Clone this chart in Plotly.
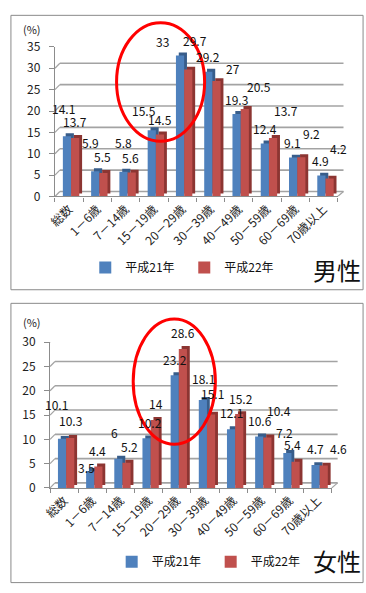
import plotly.graph_objects as go

# ---------------- data ----------------
categories = ["総数", "1－6歳", "7－14歳", "15－19歳", "20－29歳",
              "30－39歳", "40－49歳", "50－59歳", "60－69歳", "70歳以上"]
series_names = ["平成21年", "平成22年"]

male_h21 = [14.1, 5.9, 5.8, 15.5, 33, 29.2, 19.3, 12.4, 9.1, 4.9]
male_h22 = [13.7, 5.5, 5.6, 14.5, 29.7, 27, 20.5, 13.7, 9.2, 4.2]
female_h21 = [10.1, 3.5, 6, 10.2, 23.2, 18.1, 12.1, 10.6, 7.2, 4.7]
female_h22 = [10.3, 4.4, 5.2, 14, 28.6, 15.1, 15.2, 10.4, 5.4, 4.6]

male_ticks = [0, 5, 10, 15, 20, 25, 30, 35]
female_ticks = [0, 5, 10, 15, 20, 25, 30]

# ---------------- style / layout ----------------
W, H = 366, 593
FONT = "Noto Sans CJK JP"
BLUE, BLUE_D = "#4F81BD", "#385D8A"
RED, RED_D = "#C0504D", "#8C3532"
GRID = "#A3A3A3"
AXIS = "#8C8C8C"
BAR_W = 0.29
BAR_OFF = [-0.22, 0.07]
DEPTH_X = 0.1
DEPTH_PX = 3
WALL_DX, WALL_DY = 5, 5


def px(x):
    return x / W


def py(y):
    return 1 - y / H


# label nudges (pixels) relative to the top-centre of each bar
male_nudge = [
    [(-3, 28), (-5, 29), (0, 29.5), (-8, 20), (-17, 14), (0, 15.5), (0, 15), (0, 15), (-1, 15), (-1, 15)],
    [(0, 16), (-1, 16), (-1, 15), (0, 15), (7, 29), (16, 13), (14, 22), (13, 27), (10, 23.5), (9, 30)],
]
female_nudge = [
    [(-5, 34.5), (-4, 3.5), (-4, 26), (3, 16), (0, 16), (1, 21.5), (0, 16.5), (1, 16), (-3, 20), (0, 16.5)],
    [(0, 17.5), (-1, 16), (3, 16), (1, 16), (0, 16), (1, 21.5), (2, 16), (11, 27), (-3, 17), (15, 17)],
]

panels = [
    dict(xa="x", ya="y", xl="xaxis", yl="yaxis", legend="legend",
         x0=48, x1=337, ybot=192, ytop=38, ymax=35, ticks=male_ticks,
         vals=[male_h21, male_h22], nudge=male_nudge,
         frame=(3, 5.5, 363, 288), pct=(25, 20), gender="男性", gpos=(336, 267),
         leg=(79, 265), ell=(111, 13, 201, 135)),
    dict(xa="x2", ya="y2", xl="xaxis2", yl="yaxis2", legend="legend2",
         x0=43, x1=331, ybot=492, ytop=342, ymax=30, ticks=female_ticks,
         vals=[female_h21, female_h22], nudge=female_nudge,
         frame=(3, 302, 363, 589.5), pct=(25, 321), gender="女性", gpos=(336, 567),
         leg=(106, 568), ell=(128, 318, 212, 447)),
]

fig = go.Figure()
shapes = []
annotations = []
layout_axes = {}

for p in panels:
    scale = (p["ybot"] - p["ytop"]) / p["ymax"]
    catpx = (p["x1"] - p["x0"]) / len(categories)
    dbase = DEPTH_PX / scale
    cols = [(BLUE, BLUE_D), (RED, RED_D)]
    for k in range(2):
        fig.add_trace(go.Bar(
            x=categories, y=p["vals"][k], base=dbase, width=BAR_W,
            offset=BAR_OFF[k] + DEPTH_X, marker=dict(color=cols[k][1], line=dict(width=0)),
            xaxis=p["xa"], yaxis=p["ya"], showlegend=False, hoverinfo="skip"))
        fig.add_trace(go.Bar(
            x=categories, y=p["vals"][k], width=BAR_W, offset=BAR_OFF[k],
            marker=dict(color=cols[k][0], line=dict(width=0)), name=series_names[k],
            xaxis=p["xa"], yaxis=p["ya"], legend=p["legend"]))
        # data labels
        for i, (c, v) in enumerate(zip(categories, p["vals"][k])):
            dx, dy = p["nudge"][k][i]
            annotations.append(dict(
                x=c, y=v, xref=p["xa"], yref=p["ya"], text=f"{v:g}", showarrow=False,
                xshift=(BAR_OFF[k] + BAR_W / 2) * catpx + dx, yshift=dy,
                font=dict(family=FONT, size=12, color="#111")))

    # axes
    layout_axes[p["xl"]] = dict(
        domain=[px(p["x0"]), px(p["x1"])], anchor=p["ya"], type="category",
        range=[-0.5, len(categories) - 0.5], tickson="boundaries", ticks="outside",
        ticklen=4, tickcolor=AXIS, showline=True, linecolor=AXIS, linewidth=1.2,
        showgrid=False, tickangle=-45, fixedrange=True,
        tickfont=dict(family=FONT, size=12, color="#222"))
    layout_axes[p["yl"]] = dict(
        domain=[py(p["ybot"]), py(p["ytop"])], anchor=p["xa"], range=[0, p["ymax"]],
        tickvals=p["ticks"], ticks="outside", ticklen=5, tickcolor=AXIS,
        showline=True, linecolor=AXIS, linewidth=1.2, showgrid=False, zeroline=False,
        ticklabelstandoff=6, fixedrange=True,
        tickfont=dict(family=FONT, size=12, color="#222"))

    # back wall gridlines, wall/floor edges
    for v in p["ticks"]:
        shapes.append(dict(type="line", xref="paper", yref=p["ya"], ysizemode="pixel",
                           yanchor=v, x0=px(p["x0"] + WALL_DX), x1=px(p["x1"] + WALL_DX + 1),
                           y0=WALL_DY, y1=WALL_DY, line=dict(color=GRID, width=1.6), layer="below"))
        shapes.append(dict(type="line", xref="paper", yref=p["ya"], ysizemode="pixel",
                           yanchor=v, x0=px(p["x0"]), x1=px(p["x0"] + WALL_DX),
                           y0=0, y1=WALL_DY, line=dict(color=GRID, width=1.2), layer="below"))
    shapes.append(dict(type="line", xref="paper", yref=p["ya"], ysizemode="pixel",
                       yanchor=0, x0=px(p["x1"]), x1=px(p["x1"] + WALL_DX + 1),
                       y0=0, y1=WALL_DY, line=dict(color=GRID, width=1.2), layer="below"))

    # panel frame
    fx0, fy0, fx1, fy1 = p["frame"]
    shapes.append(dict(type="rect", xref="paper", yref="paper", x0=px(fx0), x1=px(fx1),
                       y0=py(fy1), y1=py(fy0), line=dict(color="#8A8A8A", width=1),
                       fillcolor="rgba(0,0,0,0)", layer="above"))
    # highlight ellipse
    ex0, ey0, ex1, ey1 = p["ell"]
    shapes.append(dict(type="circle", xref="paper", yref="paper", x0=px(ex0), x1=px(ex1),
                       y0=py(ey1), y1=py(ey0), line=dict(color="#FF0000", width=3),
                       layer="above"))
    # (%) and gender labels
    annotations.append(dict(x=px(p["pct"][0]), y=py(p["pct"][1]), xref="paper", yref="paper",
                            text="(%)", showarrow=False, xanchor="center", yanchor="middle",
                            font=dict(family=FONT, size=11, color="#222")))
    annotations.append(dict(x=px(p["gpos"][0]), y=py(p["gpos"][1]), xref="paper", yref="paper",
                            text=p["gender"], showarrow=False, xanchor="center", yanchor="middle",
                            font=dict(family=FONT, size=24, color="#111")))
    layout_axes[p["legend"]] = dict(
        x=px(p["leg"][0]), y=py(p["leg"][1]), xanchor="left", yanchor="middle",
        orientation="h", bgcolor="rgba(0,0,0,0)", borderwidth=0,
        entrywidth=54, entrywidthmode="pixels",
        font=dict(family=FONT, size=12, color="#111"), itemclick=False,
        itemdoubleclick=False, tracegroupgap=0)

fig.update_layout(
    width=W, height=H, margin=dict(l=0, r=0, t=0, b=0),
    paper_bgcolor="white", plot_bgcolor="rgba(0,0,0,0)",
    barmode="overlay", showlegend=True,
    shapes=shapes, annotations=annotations,
    font=dict(family=FONT), **layout_axes)

fig.write_html(
    "out.html",
    config={"displayModeBar": False},
    post_script=("document.body.style.margin='0';"
                 "document.body.style.overflow='hidden';"
                 "document.documentElement.style.overflow='hidden';"))
